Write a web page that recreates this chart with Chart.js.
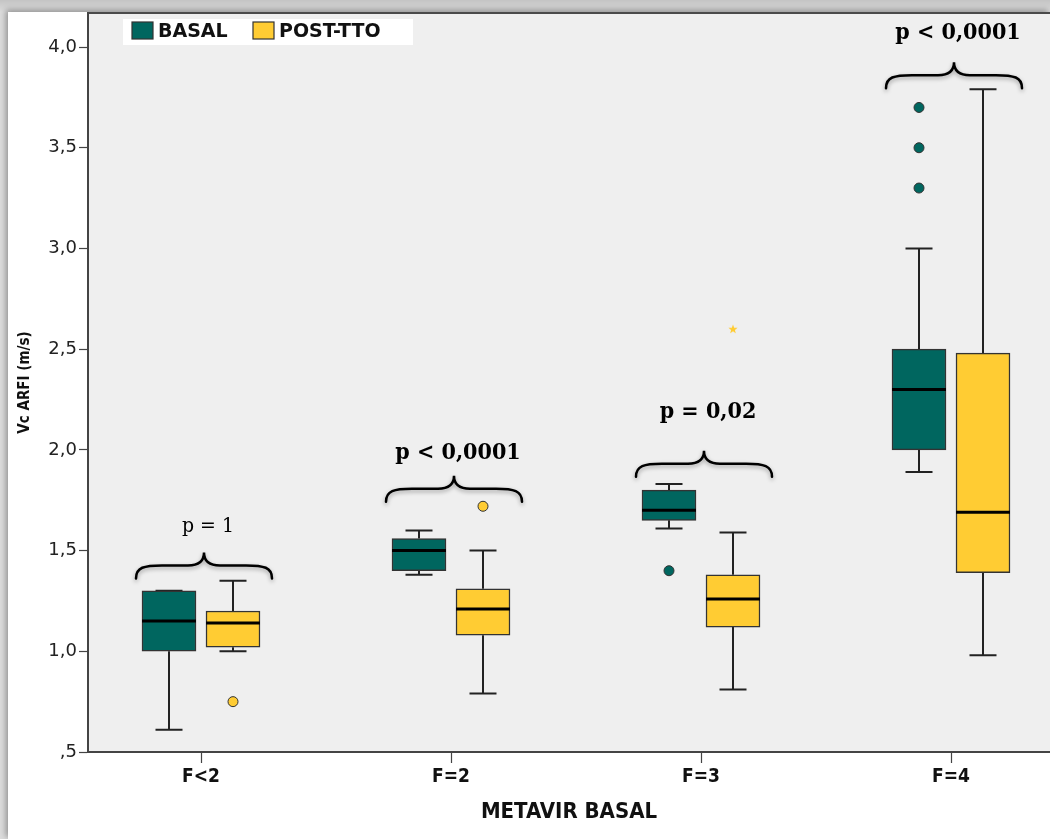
<!DOCTYPE html>
<html>
<head>
<meta charset="utf-8">
<script src="https://cdn.jsdelivr.net/npm/chart.js@4.4.0/dist/chart.umd.min.js"></script>
<style>
  html, body { margin: 0; padding: 0; width: 1050px; height: 839px; overflow: hidden; background: linear-gradient(#c4c4c4, #dcdcdc 12px); }
  #wrap { position: absolute; left: 8px; top: 12px; width: 1042px; height: 827px; background: #ffffff; box-shadow: -2px -2px 6px rgba(0,0,0,0.35); }
  canvas { display: block; }
</style>
</head>
<body>
<div id="wrap"><canvas id="c" width="1042" height="827"></canvas></div>
<script>
// ---------------- data ----------------
const categories = ['F<2', 'F=2', 'F=3', 'F=4'];
const seriesNames = ['BASAL', 'POST-TTO'];

const basalMin     = [0.61, 1.38, 1.61, 1.89];
const basalQ1      = [1.00, 1.40, 1.65, 2.00];
const basalMedian  = [1.15, 1.50, 1.70, 2.30];
const basalQ3      = [1.30, 1.56, 1.80, 2.50];
const basalMax     = [1.30, 1.60, 1.83, 3.00];
const basalOutliers = [[], [], [1.40], [3.30, 3.50, 3.70]];
const basalExtremes = [[], [], [], []];

const postMin      = [1.00, 0.79, 0.81, 0.98];
const postQ1       = [1.02, 1.08, 1.12, 1.39];
const postMedian   = [1.14, 1.21, 1.26, 1.69];
const postQ3       = [1.20, 1.31, 1.38, 2.48];
const postMax      = [1.35, 1.50, 1.59, 3.79];
const postOutliers = [[0.75], [1.72], [], []];
const postExtremes = [[], [], [2.60], []];

const yTickValues = [0.5, 1.0, 1.5, 2.0, 2.5, 3.0, 3.5, 4.0];
const yTickLabels = [',5', '1,0', '1,5', '2,0', '2,5', '3,0', '3,5', '4,0'];

const pLabels      = ['p = 1', 'p < 0,0001', 'p = 0,02', 'p < 0,0001'];
const pBold        = [false, true, true, true];
const braceLevels  = [1.362, 1.742, 1.866, 3.796];
const pLabelLevels = [1.618, 1.984, 2.189, 4.07];

// ---------------- styling ----------------
const COLORS = ['#00665F', '#FFCC33'];
const BOX_PX = 54;
const GROUP_OFFSET = 0.128;   // half distance between paired boxes in category units
const SANS_C = '"DejaVu Sans Condensed", "DejaVu Sans", sans-serif';

function boxData(q1, q3, sign) {
  return categories.map((c, i) => ({ x: i + 1 + sign * GROUP_OFFSET, y: [q1[i], q3[i]] }));
}
function pointData(list, sign) {
  const out = [];
  list.forEach((vals, i) => vals.forEach(v => out.push({ x: i + 1 + sign * GROUP_OFFSET, y: v })));
  return out;
}
function starImage(color) {
  const c = document.createElement('canvas');
  c.width = 10; c.height = 10;
  const g = c.getContext('2d');
  g.fillStyle = color;
  g.beginPath();
  for (let k = 0; k < 10; k++) {
    const r = k % 2 === 0 ? 4.8 : 2.0;
    const a = -Math.PI / 2 + k * Math.PI / 5;
    const px = 5 + r * Math.cos(a), py = 5.3 + r * Math.sin(a);
    if (k === 0) g.moveTo(px, py); else g.lineTo(px, py);
  }
  g.closePath();
  g.fill();
  return c;
}

const boxStats = [
  { min: basalMin, med: basalMedian, max: basalMax, q1: basalQ1, q3: basalQ3 },
  { min: postMin,  med: postMedian,  max: postMax,  q1: postQ1,  q3: postQ3 }
];

const bgPlugin = {
  id: 'plotBg',
  beforeDraw(chart) {
    const { ctx, chartArea: a } = chart;
    ctx.save();
    ctx.fillStyle = '#EFEFEF';
    ctx.fillRect(a.left, a.top, a.right - a.left, a.bottom - a.top);
    ctx.strokeStyle = '#4a4a4a';
    ctx.lineWidth = 2;
    ctx.beginPath();
    ctx.moveTo(a.left, a.top);
    ctx.lineTo(a.right, a.top);
    ctx.stroke();
    ctx.restore();
  }
};

const whiskerPlugin = {
  id: 'whiskers',
  beforeDatasetsDraw(chart) {
    const { ctx } = chart;
    const ys = chart.scales.y;
    ctx.save();
    ctx.strokeStyle = '#222';
    ctx.lineWidth = 2;
    boxStats.forEach((s, d) => {
      const meta = chart.getDatasetMeta(d);
      meta.data.forEach((bar, i) => {
        const x = bar.x;
        const yLo = ys.getPixelForValue(s.min[i]);
        const yHi = ys.getPixelForValue(s.max[i]);
        const yQ1 = ys.getPixelForValue(s.q1[i]);
        const yQ3 = ys.getPixelForValue(s.q3[i]);
        const cap = bar.width / 4;
        ctx.beginPath();
        ctx.moveTo(x, yLo); ctx.lineTo(x, yQ1);
        ctx.moveTo(x, yQ3); ctx.lineTo(x, yHi);
        ctx.moveTo(x - cap, yLo); ctx.lineTo(x + cap, yLo);
        ctx.moveTo(x - cap, yHi); ctx.lineTo(x + cap, yHi);
        ctx.stroke();
      });
    });
    ctx.restore();
  },
  afterDatasetsDraw(chart) {
    const { ctx } = chart;
    const ys = chart.scales.y;
    ctx.save();
    ctx.strokeStyle = '#000';
    ctx.lineWidth = 3;
    boxStats.forEach((s, d) => {
      const meta = chart.getDatasetMeta(d);
      meta.data.forEach((bar, i) => {
        const y = ys.getPixelForValue(s.med[i]);
        ctx.beginPath();
        ctx.moveTo(bar.x - bar.width / 2, y);
        ctx.lineTo(bar.x + bar.width / 2, y);
        ctx.stroke();
      });
    });
    ctx.restore();
  }
};

const annotPlugin = {
  id: 'pvalues',
  afterDraw(chart) {
    const { ctx } = chart;
    const xs = chart.scales.x, ys = chart.scales.y;
    ctx.save();
    categories.forEach((c, i) => {
      const cx = xs.getPixelForValue(i + 1) + 3;
      const yE = ys.getPixelForValue(braceLevels[i]);
      const half = 68, h1 = 13, h2 = 13;
      const x0 = cx - half, x1 = cx + half;
      ctx.save();
      ctx.shadowColor = 'rgba(0,0,0,0.35)';
      ctx.shadowBlur = 4;
      ctx.shadowOffsetY = 2;
      ctx.strokeStyle = '#000';
      ctx.lineWidth = 2.5;
      ctx.lineCap = 'round';
      ctx.beginPath();
      ctx.moveTo(x0, yE);
      ctx.bezierCurveTo(x0, yE - h1 * 0.85, x0 + 8, yE - h1, x0 + 26, yE - h1);
      ctx.lineTo(cx - 16, yE - h1);
      ctx.bezierCurveTo(cx - 5, yE - h1, cx, yE - h1 - 4, cx, yE - h1 - h2);
      ctx.bezierCurveTo(cx, yE - h1 - 4, cx + 5, yE - h1, cx + 16, yE - h1);
      ctx.lineTo(x1 - 26, yE - h1);
      ctx.bezierCurveTo(x1 - 8, yE - h1, x1, yE - h1 * 0.85, x1, yE);
      ctx.stroke();
      ctx.restore();

      ctx.fillStyle = '#000';
      ctx.textAlign = 'center';
      ctx.textBaseline = 'middle';
      ctx.font = (pBold[i] ? 'bold 23px ' : '21px ') + '"DejaVu Serif Condensed", "DejaVu Serif", serif';
      ctx.fillText(pLabels[i], xs.getPixelForValue(i + 1) + 7, ys.getPixelForValue(pLabelLevels[i]));
    });

    // legend box
    const lx = 115, ly = 7;
    ctx.fillStyle = '#ffffff';
    ctx.fillRect(lx, ly, 290, 26);
    ctx.font = 'bold 19px "DejaVu Sans", sans-serif';
    ctx.textAlign = 'left';
    ctx.textBaseline = 'middle';
    const items = chart.data.datasets.slice(0, 2);
    const xsPos = [lx + 9, lx + 130];
    items.forEach((ds, k) => {
      const sx = xsPos[k];
      ctx.fillStyle = ds.backgroundColor;
      ctx.fillRect(sx, ly + 3, 21, 17);
      ctx.strokeStyle = '#333';
      ctx.lineWidth = 1.2;
      ctx.strokeRect(sx, ly + 3, 21, 17);
      ctx.fillStyle = '#111';
      ctx.fillText(ds.label, sx + 26, ly + 13);
    });
    ctx.restore();
  }
};

new Chart(document.getElementById('c'), {
  type: 'bar',
  data: {
    datasets: [
      { label: seriesNames[0], data: boxData(basalQ1, basalQ3, -1), backgroundColor: COLORS[0], borderColor: '#333', borderWidth: 1.5, borderSkipped: false, barThickness: BOX_PX, grouped: false, order: 2 },
      { label: seriesNames[1], data: boxData(postQ1, postQ3, 1), backgroundColor: COLORS[1], borderColor: '#333', borderWidth: 1.5, borderSkipped: false, barThickness: BOX_PX, grouped: false, order: 2 },
      { type: 'scatter', label: 'basal-out', data: pointData(basalOutliers, -1), backgroundColor: COLORS[0], borderColor: '#333', borderWidth: 1, pointRadius: 5, order: 1 },
      { type: 'scatter', label: 'post-out', data: pointData(postOutliers, 1), backgroundColor: COLORS[1], borderColor: '#333', borderWidth: 1, pointRadius: 5, order: 1 },
      { type: 'scatter', label: 'basal-ext', data: pointData(basalExtremes, -1), pointStyle: starImage(COLORS[0]), pointRadius: 5, order: 1 },
      { type: 'scatter', label: 'post-ext', data: pointData(postExtremes, 1), pointStyle: starImage(COLORS[1]), pointRadius: 5, order: 1 }
    ]
  },
  options: {
    responsive: false,
    animation: false,
    layout: { autoPadding: false, padding: { top: 1, right: 0, left: 0, bottom: 0 } },
    plugins: { legend: { display: false }, tooltip: { enabled: false } },
    scales: {
      x: {
        type: 'linear',
        min: 0.548,
        max: 4.396,
        offset: false,
        afterBuildTicks(scale) { scale.ticks = categories.map((c, i) => ({ value: i + 1 })); },
        afterFit(scale) { scale.height = 87; scale.paddingLeft = 0; scale.paddingRight = 0; },
        ticks: {
          callback: (v) => categories[v - 1],
          color: '#111',
          font: { family: SANS_C, size: 19, weight: 'bold' },
          padding: 3,
          maxRotation: 0,
          autoSkip: false
        },
        grid: { display: true, drawOnChartArea: false, offset: false, tickLength: 11, tickColor: '#444', tickWidth: 1.2 },
        border: { display: true, color: '#444', width: 2 },
        title: { display: true, text: 'METAVIR BASAL', color: '#111', font: { family: SANS_C, size: 22, weight: 'bold' }, padding: { top: 0, bottom: 14 } }
      },
      y: {
        type: 'linear',
        min: 0.5,
        max: 4.169,
        afterBuildTicks(scale) { scale.ticks = yTickValues.map(v => ({ value: v })); },
        afterFit(scale) { scale.width = 80; scale.paddingTop = 0; scale.paddingBottom = 0; },
        ticks: {
          callback: (v) => yTickLabels[yTickValues.indexOf(v)],
          color: '#222',
          font: { family: '"DejaVu Sans", sans-serif', size: 18 },
          padding: 2
        },
        grid: { display: true, drawOnChartArea: false, tickLength: 9, tickColor: '#444', tickWidth: 1.2 },
        border: { display: true, color: '#444', width: 2 },
        title: { display: true, text: 'Vc ARFI (m/s)', color: '#111', font: { family: SANS_C, size: 15, weight: 'bold' }, padding: { top: 8, bottom: 0 } }
      }
    }
  },
  plugins: [bgPlugin, whiskerPlugin, annotPlugin]
});
</script>
</body>
</html>
